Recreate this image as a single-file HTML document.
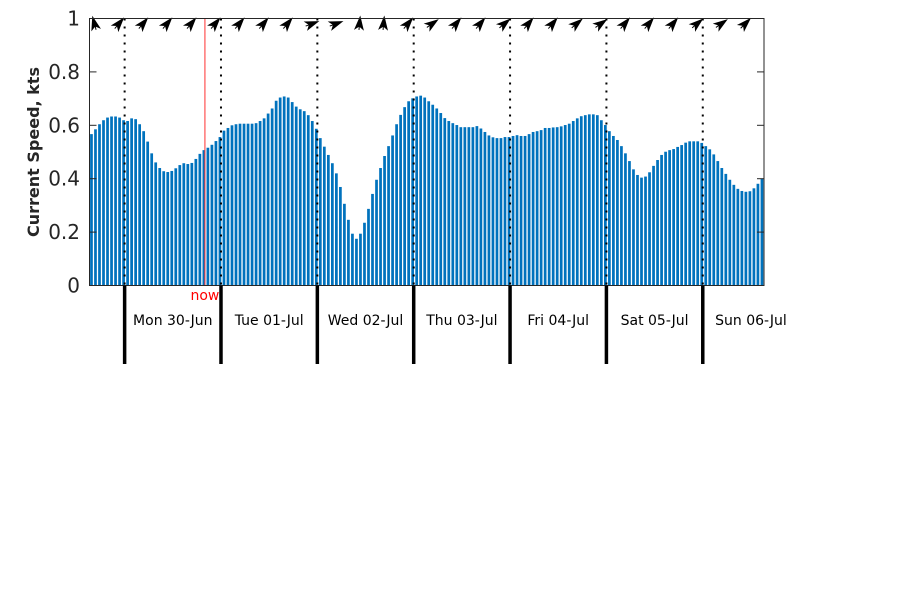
<!DOCTYPE html>
<html><head><meta charset="utf-8"><style>
html,body{margin:0;padding:0;background:#fff;}
svg{display:block;font-family:"DejaVu Sans","Liberation Sans",sans-serif;}
</style></head><body>
<svg id="chart" width="900" height="600" viewBox="0 0 900 600">
<g id="bars"></g>
<g id="grid"></g>
<g id="arrows"></g>
<rect x="89.5" y="18.5" width="674.5" height="267" fill="none" stroke="#262626" stroke-width="1"/>
<g id="yaxis"></g>
<g id="xaxis"></g>
<text transform="translate(39,152) rotate(-90)" text-anchor="middle" font-weight="bold" font-size="16" fill="#262626">Current Speed, kts</text>
</svg>
<script>
const speeds = [.567,.585,.604,.619,.629,.633,.633,.629,.619,.616,.626,.623,.604,.578,.539,.495,.461,.440,.428,.425,
.429,.439,.451,.458,.455,.459,.474,.493,.507,.516,.527,.541,.556,.580,.590,.600,.604,.606,.606,.606,
.606,.608,.616,.626,.644,.663,.692,.704,.708,.704,.687,.670,.660,.653,.638,.616,.587,.552,.520,.489,
.458,.420,.369,.306,.246,.194,.175,.194,.235,.287,.343,.396,.440,.485,.522,.562,.604,.639,.668,.690,
.701,.708,.711,.704,.690,.677,.663,.646,.627,.616,.608,.601,.593,.593,.593,.593,.597,.588,.575,.562,
.555,.552,.552,.556,.556,.560,.563,.560,.560,.567,.575,.578,.582,.590,.590,.592,.593,
.596,.601,.606,.616,.626,.634,.638,.641,.641,.638,.619,.601,.578,.560,.545,.522,.495,.466,.435,.414,
.404,.408,.424,.448,.470,.489,.501,.507,.511,.519,.526,.535,.540,.540,.540,.534,.522,.510,.491,.466,
.440,.418,.396,.377,.362,.354,.351,.353,.364,.381,.399];
const dayLabels = ["Mon 30-Jun","Tue 01-Jul","Wed 02-Jul","Thu 03-Jul","Fri 04-Jul","Sat 05-Jul","Sun 06-Jul"];
const yTicks = [0,0.2,0.4,0.6,0.8,1];
const yTickLabels = ["0","0.2","0.4","0.6","0.8","1"];
const arrowDirs = [-15,40,40,40,40,40,40,40,40,70,70,5,5,40,55,40,40,50,40,40,50,55,40,40,40,50,55,45];
const firstBoundaryHour = 8.75;
const nowHour = 28.75;

const NS="http://www.w3.org/2000/svg";
const X0=89.5, X1=764, Y0=285.5, Y1=18.5;
const n=speeds.length;
const pitch=(X1-X0)/n;
const xScale=h=>X0+h*pitch;
const yScale=v=>Y0-(v/1)*(Y0-Y1);
function mk(tag,attrs,parent){const e=document.createElementNS(NS,tag);for(const k in attrs)e.setAttribute(k,attrs[k]);parent.appendChild(e);return e;}

const bars=document.getElementById('bars');
speeds.forEach((v,i)=>{
  const r=mk('rect',{x:xScale(i)+0.6,y:yScale(v),width:pitch*0.68,height:Y0-yScale(v),fill:'#0072bd'},bars);
  
  
});

const grid=document.getElementById('grid');
const xaxis=document.getElementById('xaxis');
dayLabels.forEach((lab,k)=>{
  const x=xScale(firstBoundaryHour+24*k);
  const d=mk('line',{x1:x,x2:x,y1:Y1,y2:Y0,stroke:'#000','stroke-width':2,'stroke-dasharray':'2,6'},grid);
  
  
  const t=mk('line',{x1:x,x2:x,y1:Y0,y2:364,stroke:'#000','stroke-width':3.5},xaxis);
  
  
  const lx=xScale(firstBoundaryHour+24*k+12);
  const tx=mk('text',{x:lx,y:325,'text-anchor':'middle','font-size':14,fill:'#000'},xaxis);
  tx.textContent=lab;
  
  
});
const nx=xScale(nowHour);
const nl=mk('line',{x1:nx,x2:nx,y1:Y1,y2:Y0,stroke:'#ff3030','stroke-width':1},grid);


const nt=mk('text',{x:nx,y:300,'text-anchor':'middle','font-size':14,fill:'#ff0000'},xaxis);
nt.textContent='now';



const yaxis=document.getElementById('yaxis');
yTicks.forEach((v,i)=>{
  const y=yScale(v);
  mk('line',{x1:X0,x2:X0+7,y1:y,y2:y,stroke:'#262626'},yaxis);
  mk('line',{x1:X1-7,x2:X1,y1:y,y2:y,stroke:'#262626'},yaxis);
  const t=mk('text',{x:80,y:y+7,'text-anchor':'end','font-size':20,fill:'#262626'},yaxis);
  t.textContent=yTickLabels[i];
  
  
});

const arrows=document.getElementById('arrows');
arrowDirs.forEach((a,k)=>{
  const x=xScale(1+6*k)+1, y=24;
  const p=mk('path',{d:'M0,-7 L4,5 L0,2 L-4,5 Z M0,2 L0,6',fill:'#000',stroke:'#000','stroke-width':1,transform:`translate(${x},${y}) rotate(${a})`},arrows);
  
  
});
</script>
</body></html>
